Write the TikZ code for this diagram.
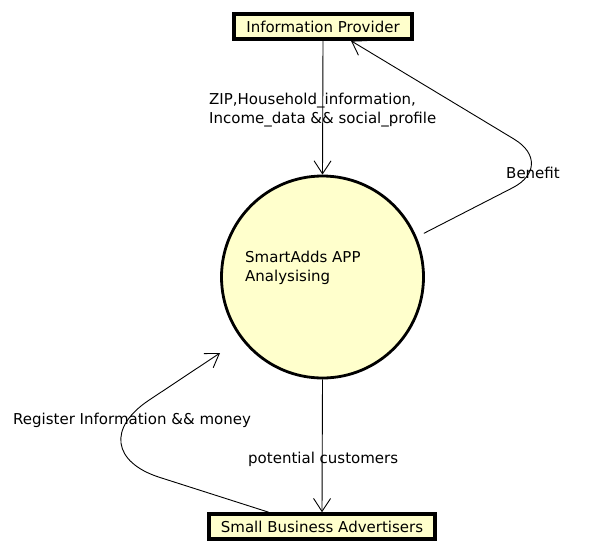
\documentclass[tikz,border=0pt]{standalone}
\usepackage{fontspec}
\setmainfont{DejaVu Sans}
\usetikzlibrary{arrows.meta}
\definecolor{paleyellow}{RGB}{255,255,204}

\begin{document}
\begin{tikzpicture}[x=1pt,y=-1pt,
	entity/.style={draw,line width=3.5pt,fill=paleyellow,minimum height=25pt,inner sep=0pt,font=\fontsize{15}{19}\selectfont},
	process/.style={circle,draw,line width=2.8pt,fill=paleyellow,minimum size=202pt,inner sep=0pt},
	flow/.style={-{Straight Barb[length=13pt,width=17pt]},line width=0.9pt},
	lbl/.style={inner sep=0pt,align=left,font=\fontsize{15}{19}\selectfont}]

	\useasboundingbox (0,0) rectangle (593,554);

	% entities and process
	\node[entity,minimum width=178pt] (provider) at (323,26.5) {Information Provider};
	\node[process] (app) at (322.5,277) {};
	\node[lbl,anchor=west] (apptext) at (245,267.5) {SmartAdds APP\\Analysising};
	\node[entity,minimum width=226pt] (advertisers) at (322,526.5) {Small Business Advertisers};

	% bends and free ends
	\coordinate (benefitbend) at (557,165);
	\coordinate (registerbend) at (74,450);
	\coordinate (registerend) at (220,353);

	% flows
	\draw[flow] (provider.south) -- (app.north);
	\draw[flow] (app.south) -- (advertisers.north);
	\draw[flow,rounded corners=50pt,shorten <=8pt] (app.23) -- (benefitbend) -- (provider.-27);
	\draw[flow,rounded corners=90pt] (advertisers.165) -- (registerbend) -- (registerend);

	% labels
	\node[lbl,anchor=west] (datalbl) at (209,110.5) {ZIP,Household\_information,\\Income\_data \&\& social\_profile};
	\node[lbl,anchor=west] (benefitlbl) at (506,173) {Benefit};
	\node[lbl,anchor=west] (registerlbl) at (13,420) {Register Information \&\& money};
	\node[lbl,anchor=west] (customerlbl) at (248,459) {potential customers};

\end{tikzpicture}
\end{document}
